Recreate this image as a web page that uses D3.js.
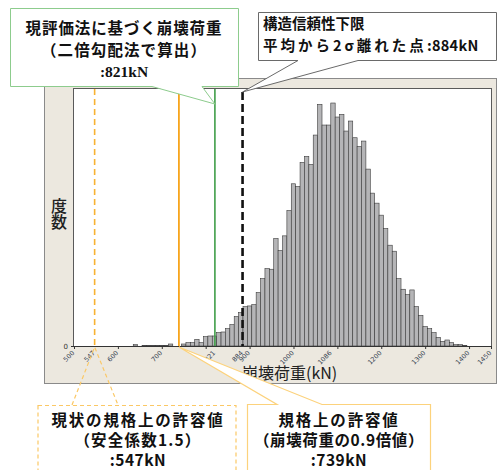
<!DOCTYPE html>
<html>
<head>
<meta charset="utf-8">
<script src="https://cdn.jsdelivr.net/npm/d3@7"></script>
<style>
  html, body { margin: 0; padding: 0; background: #ffffff; }
  svg { display: block; }
  .jp { font-family: "Noto Sans CJK JP", "Noto Sans", sans-serif; font-weight: 700; }
</style>
</head>
<body>
<div id="chart"></div>
<script>
// Histogram of collapse load (kN): lower edge of each 10 kN bin and its count
const binLow = [635, 655, 665, 675, 685, 695, 705, 715,
  745, 755, 765, 775, 785, 795, 805, 815, 825, 835, 845, 855, 865, 875, 885, 895,
  905, 915, 925, 935, 945, 955, 965, 975, 985, 995, 1005, 1015, 1025, 1035, 1045,
  1055, 1065, 1075, 1085, 1095, 1105, 1115, 1125, 1135, 1145, 1155, 1165, 1175,
  1185, 1195, 1205, 1215, 1225, 1235, 1245, 1255, 1265, 1275, 1285, 1295, 1305,
  1315, 1325, 1335, 1345, 1355, 1365, 1375, 1385];
const binCount = [2, 1, 1, 1, 1, 1, 1, 3,
  3, 5, 5, 10, 5, 14, 15, 15, 20, 21, 26, 32, 44, 50, 59, 60,
  62, 80, 101, 116, 115, 161, 143, 165, 203, 243, 239, 275, 284, 272, 316,
  362, 331, 331, 364, 343, 347, 322, 337, 312, 299, 307, 265, 229, 214, 196,
  176, 151, 142, 101, 85, 77, 84, 59, 46, 29, 26, 20, 13, 7, 9, 5, 2, 2, 1];
const binWidth = 10;

// Axis ticks and the labelled values under the axis
const majorTicks = [500, 600, 700, 800, 900, 1000, 1100, 1200, 1300, 1400, 1450];
const tickLabels = [500, 547, 600, 700, 821, 884, 900, 1000, 1086, 1200, 1300, 1400, 1450];

// Reference loads (kN)
const allowableOld = 547;     // 現状の規格上の許容値
const allowable = 739;        // 規格上の許容値
const currentMethod = 821;    // 現評価法に基づく崩壊荷重
const reliabilityLower = 884; // 平均から2σ

const W = 500, H = 470;
const svg = d3.select("#chart").append("svg").attr("width", W).attr("height", H);

const plot = { left: 74, right: 491, top: 89, bottom: 346 };
const x = d3.scaleLinear().domain([500, 1450]).range([plot.left, plot.right]);
const y = d3.scaleLinear().domain([0, 385]).range([plot.bottom, plot.top]);

// Chart panel
svg.append("rect").attr("x", 44.5).attr("y", 78.5).attr("width", 452).attr("height", 305)
  .attr("fill", "#ece8df").attr("stroke", "#8a8a8a").attr("stroke-width", 1);
svg.append("rect").attr("x", plot.left - 0.5).attr("y", plot.top - 0.5)
  .attr("width", plot.right - plot.left + 1).attr("height", plot.bottom - plot.top + 1)
  .attr("fill", "#ffffff").attr("stroke", "#5a5a5a").attr("stroke-width", 1);

// Bars
const bins = binLow.map((lo, i) => ({ lo, count: binCount[i] }));
svg.append("g").selectAll("rect").data(bins).join("rect")
  .attr("x", d => x(d.lo))
  .attr("y", d => y(d.count))
  .attr("width", d => x(d.lo + binWidth) - x(d.lo))
  .attr("height", d => y(0) - y(d.count))
  .attr("fill", "#b5b5b7").attr("stroke", "#3a3a3a").attr("stroke-width", 0.6);

// X axis: tick marks
svg.append("g").attr("transform", `translate(0,${plot.bottom})`)
  .call(d3.axisBottom(x).tickValues(majorTicks).tickFormat("").tickSize(3).tickSizeOuter(0))
  .call(g => g.select(".domain").attr("stroke", "#333"))
  .call(g => g.selectAll(".tick line").attr("stroke", "#333"));

// X axis: rotated value labels
svg.append("g").attr("transform", `translate(0,${plot.bottom})`)
  .call(d3.axisBottom(x).tickValues(tickLabels).tickFormat(d3.format("d")).tickSize(0))
  .call(g => g.select(".domain").remove())
  .call(g => g.selectAll(".tick text")
    .attr("font-family", "DejaVu Sans, sans-serif").attr("font-size", 6.5)
    .attr("fill", "#33404f")
    .attr("text-anchor", "end").attr("dy", "0.3em")
    .attr("transform", "translate(-1,6) rotate(-45)")
    .attr("y", 0));

// Y axis: zero tick only
svg.append("g").attr("transform", `translate(${plot.left},0)`)
  .call(d3.axisLeft(y).tickValues([0]).tickSize(3).tickPadding(3))
  .call(g => g.select(".domain").remove())
  .call(g => g.selectAll(".tick line").attr("stroke", "#333"))
  .call(g => g.selectAll(".tick text").attr("font-family", "DejaVu Sans, sans-serif")
    .attr("font-size", 7).attr("fill", "#333"));

// Axis titles
svg.append("text").attr("class", "jp").attr("x", 59).attr("y", 198)
  .style("writing-mode", "vertical-rl").style("font-weight", 500)
  .attr("font-size", 16).attr("fill", "#222").text("度数");
svg.append("text").attr("class", "jp").attr("x", 242).attr("y", 379)
  .style("font-weight", 400)
  .attr("font-size", 16).attr("fill", "#222").text("崩壊荷重(kN)");

// Reference lines
svg.append("line").attr("x1", x(allowableOld)).attr("x2", x(allowableOld))
  .attr("y1", plot.top).attr("y2", plot.bottom)
  .attr("stroke", "#f9b232").attr("stroke-width", 1.6).attr("stroke-dasharray", "6,4");
svg.append("line").attr("x1", x(allowable)).attr("x2", x(allowable))
  .attr("y1", plot.top).attr("y2", plot.bottom)
  .attr("stroke", "#f7a51c").attr("stroke-width", 1.8);
svg.append("line").attr("x1", x(currentMethod)).attr("x2", x(currentMethod))
  .attr("y1", plot.top).attr("y2", plot.bottom)
  .attr("stroke", "#3f9d48").attr("stroke-width", 1.6);
svg.append("line").attr("x1", x(reliabilityLower)).attr("x2", x(reliabilityLower))
  .attr("y1", 92).attr("y2", plot.bottom)
  .attr("stroke", "#111").attr("stroke-width", 2.6).attr("stroke-dasharray", "8,4");

// Callouts
const xa = x(allowableOld), xb = x(allowable), xc = x(currentMethod), xd = x(reliabilityLower);

// Multi-line label: one text element, one tspan per line
function block(cx, lines, opts) {
  const t = svg.append("text").attr("class", "jp").attr("fill", "#111")
    .attr("text-anchor", opts.anchor || "middle").attr("font-size", opts.size);
  lines.forEach(l => {
    const parts = l.parts || [{ text: l.text, spacing: l.spacing, family: l.family }];
    parts.forEach((p, i) => {
      const s = t.append("tspan").text(p.text);
      if (i === 0) s.attr("x", cx).attr("y", l.y);
      if (p.spacing != null) s.attr("letter-spacing", p.spacing);
      if (p.family) s.attr("font-family", p.family);
    });
  });
  return t;
}

// 現評価法 (green)
svg.append("path")
  .attr("d", `M10.5,8.5 H238.5 V86.5 H202 L${xc},104 L152,86.5 H10.5 Z`)
  .attr("fill", "#fff").attr("stroke", "#8dcc8d").attr("stroke-width", 1);
block(124, [
  { y: 34, text: "現評価法に基づく崩壊荷重", spacing: 0.9 },
  { y: 56, text: "（二倍勾配法で算出）", spacing: 1.1 },
  { y: 77, text: ":821kN", family: "Liberation Serif, serif" }
], { size: 15.5 });

// 構造信頼性下限 (gray)
svg.append("path")
  .attr("d", `M258.5,12.5 H496.5 V60.5 H358 L${xd},92 L298,60.5 H258.5 Z`)
  .attr("fill", "#fff").attr("stroke", "#6a6a6a").attr("stroke-width", 1);
block(263, [
  { y: 29, text: "構造信頼性下限" },
  { y: 51, parts: [
    { text: "平均から2σ離れた点", spacing: 3 },
    { text: ":884kN", spacing: 0.3 }
  ] }
], { size: 14.5, anchor: "start" });

// 現状の規格上の許容値 (dashed orange)
svg.append("rect").attr("x", 38).attr("y", 405.5).attr("width", 198).attr("height", 70)
  .attr("fill", "#fff").attr("stroke", "#fbc865").attr("stroke-width", 1.2)
  .attr("stroke-dasharray", "4,3");
svg.append("path").attr("d", `M72,405 L${xa},347 L118,405`)
  .attr("fill", "none").attr("stroke", "#fbc865").attr("stroke-width", 1.2)
  .attr("stroke-dasharray", "4,3");
block(138, [
  { y: 426, text: "現状の規格上の許容値", spacing: 1.8 },
  { y: 446, text: "（安全係数1.5）", spacing: 1.2 },
  { y: 466, text: ":547kN", spacing: 0.5 }
], { size: 15.5 });

// 規格上の許容値 (solid orange)
svg.append("path")
  .attr("d", `M247.5,475 V404.5 H277 L${xb},347 L322,404.5 H430.5 V475`)
  .attr("fill", "#fff").attr("stroke", "#fcd27c").attr("stroke-width", 1.2);
block(339, [
  { y: 426, text: "規格上の許容値", spacing: 1.8 },
  { y: 446, text: "（崩壊荷重の0.9倍値）", spacing: 0.6 },
  { y: 466, text: ":739kN", spacing: 0.5 }
], { size: 15.5 });
</script>
</body>
</html>
